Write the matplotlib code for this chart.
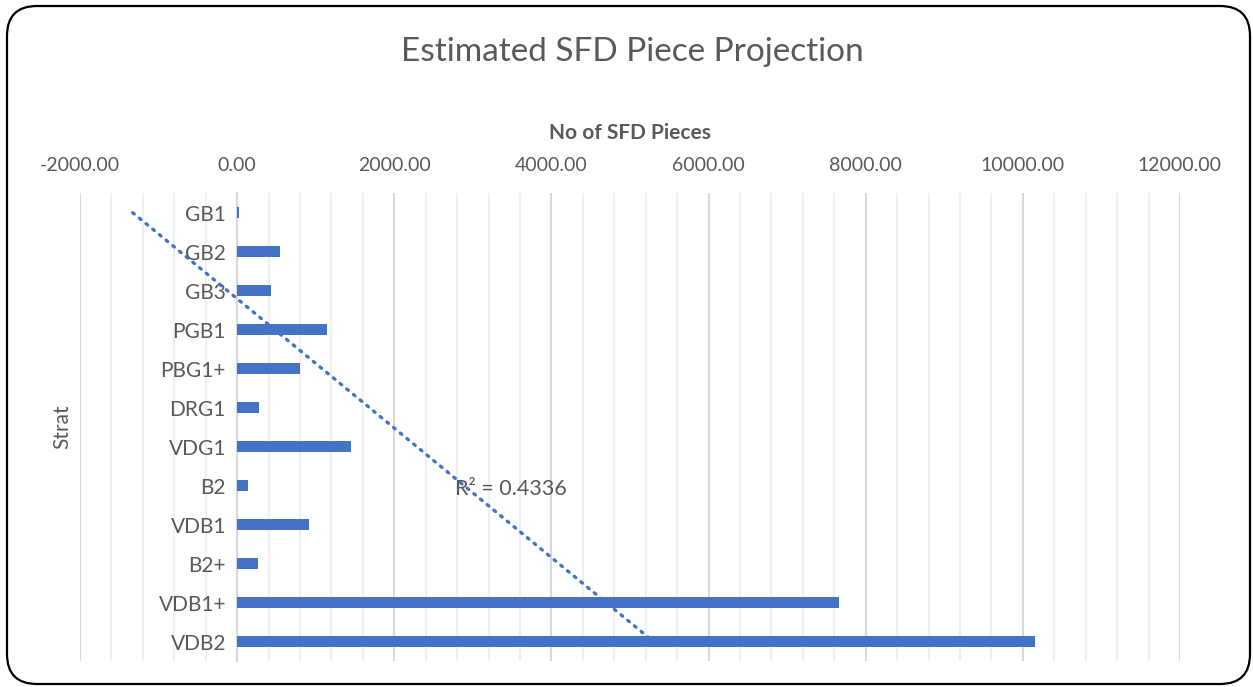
import matplotlib
matplotlib.use("Agg")
import matplotlib.pyplot as plt
from matplotlib.patches import FancyBboxPatch
from matplotlib.ticker import MultipleLocator, FormatStrFormatter
import numpy as np

plt.rcParams['font.family'] = ['Lato', 'DejaVu Sans']

# data
strats = ['GB1', 'GB2', 'GB3', 'PGB1', 'PBG1+', 'DRG1', 'VDG1', 'B2',
          'VDB1', 'B2+', 'VDB1+', 'VDB2']
pieces = [22, 548, 433, 1146, 803, 280, 1452, 140, 917, 268, 7656, 10155]
r2_label = 'R² = 0.4336'

text_col = '#595959'
bar_col = '#4472C4'

fig = plt.figure(figsize=(12.53, 6.87), dpi=100)
ax = fig.add_axes([0.0638, 0.0378, 0.8779, 0.681])

ypos = np.arange(len(strats))
ax.barh(ypos, pieces, height=0.28, color=bar_col, zorder=3)

# linear trendline over category index 1..n
idx = np.arange(1, len(strats) + 1)
slope, icpt = np.polyfit(idx, pieces, 1)
trend = slope * idx + icpt
ax.plot([trend[0], trend[-1]], [ypos[0], ypos[-1]], color=bar_col, lw=2.4,
        linestyle=(0, (0.6, 2.0)), dash_capstyle='round', zorder=4)
ax.text(2770, 7.1, r2_label, fontsize=15.5, color=text_col, va='center', ha='left', zorder=5)

ax.set_xlim(-2000, 12000)
ax.set_ylim(len(strats) - 0.5, -0.5)

ax.xaxis.tick_top()
ax.xaxis.set_label_position('top')
ax.xaxis.set_major_locator(MultipleLocator(2000))
ax.xaxis.set_minor_locator(MultipleLocator(400))
ax.xaxis.set_major_formatter(FormatStrFormatter('%.2f'))
ax.tick_params(axis='x', which='both', length=0, pad=14, labelsize=14, labelcolor=text_col)
ax.grid(axis='x', which='major', color='#d9d9d9', lw=1.5, zorder=0)
ax.grid(axis='x', which='minor', color='#f0f0f0', lw=1.5, zorder=0)

ax.set_yticks(ypos)
ax.set_yticklabels(strats)
ax.tick_params(axis='y', length=0, pad=8, labelsize=15, labelcolor=text_col)

for s in ['top', 'right', 'bottom']:
    ax.spines[s].set_visible(False)
ax.spines['left'].set_position(('data', 0))
ax.spines['left'].set_color('#d9d9d9')
ax.spines['left'].set_linewidth(1.5)

ax.set_xlabel('No of SFD Pieces', fontsize=15, fontweight='bold', color=text_col, labelpad=13)
ax.set_ylabel('Strat', fontsize=15, color=text_col)
ax.yaxis.set_label_coords(-0.007, 0.5)

fig.text(0.505, 0.924, 'Estimated SFD Piece Projection', fontsize=24, color=text_col,
         ha='center', va='center')

border = FancyBboxPatch((0.07, 0.03), 12.43, 6.78, boxstyle='round,pad=0,rounding_size=0.3',
                        transform=fig.dpi_scale_trans, fill=False, ec='black', lw=1.6)
fig.patches.append(border)

fig.savefig('out.png', dpi=100)
